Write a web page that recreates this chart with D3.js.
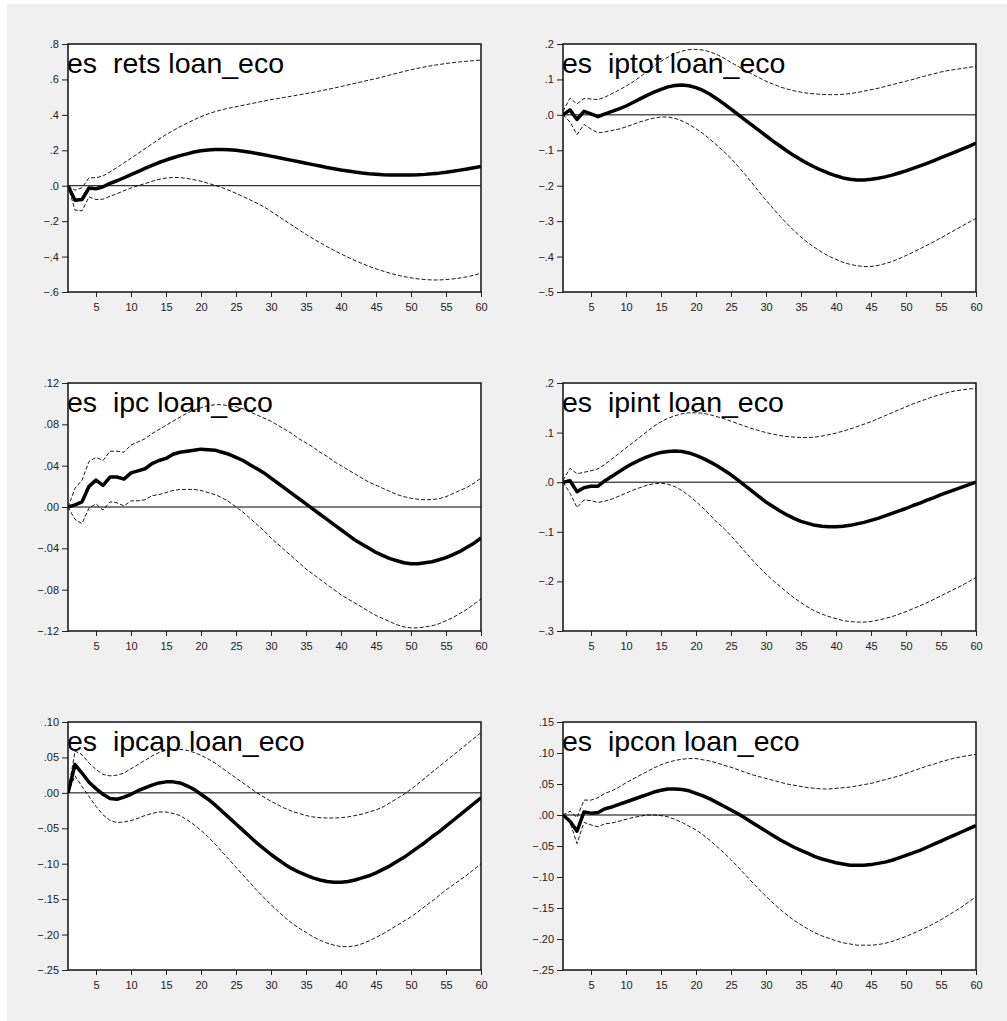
<!DOCTYPE html>
<html>
<head>
<meta charset="utf-8">
<script src="https://cdn.jsdelivr.net/npm/d3@7"></script>
<style>
body { margin: 0; background: #fff; }
svg { display: block; }
.tick text { font-family: "Liberation Sans", Arial, sans-serif; font-size: 11px; fill: #222; }
</style>
</head>
<body>
<script>
// impulse responses, periods 1..60
const periods = d3.range(1, 61);
const xTicks = [5, 10, 15, 20, 25, 30, 35, 40, 45, 50, 55, 60];

const titles = ["es  rets loan_eco", "es  iptot loan_eco", "es  ipc loan_eco",
                "es  ipint loan_eco", "es  ipcap loan_eco", "es  ipcon loan_eco"];

const yDomains = [[-0.6, 0.8], [-0.5, 0.2], [-0.12, 0.12], [-0.3, 0.2], [-0.25, 0.10], [-0.25, 0.15]];
const yTicks = [
  [-0.6, -0.4, -0.2, 0, 0.2, 0.4, 0.6, 0.8],
  [-0.5, -0.4, -0.3, -0.2, -0.1, 0, 0.1, 0.2],
  [-0.12, -0.08, -0.04, 0, 0.04, 0.08, 0.12],
  [-0.3, -0.2, -0.1, 0, 0.1, 0.2],
  [-0.25, -0.20, -0.15, -0.10, -0.05, 0, 0.05, 0.10],
  [-0.25, -0.20, -0.15, -0.10, -0.05, 0, 0.05, 0.10, 0.15]
];
const yDecimals = [1, 1, 2, 1, 2, 2];

// rets
const rets = [0,-0.082,-0.078,-0.013,-0.017,-0.006,0.013,0.028,0.045,0.062,0.080,0.098,0.115,0.131,0.145,0.158,0.170,0.180,0.190,0.197,
  0.202,0.205,0.205,0.203,0.200,0.195,0.189,0.182,0.175,0.167,0.159,0.151,0.143,0.135,0.127,0.119,0.111,0.103,0.096,0.089,
  0.083,0.077,0.072,0.068,0.065,0.062,0.061,0.060,0.060,0.061,0.062,0.064,0.067,0.071,0.076,0.082,0.088,0.094,0.101,0.108];
const retsUp = [0,-0.025,-0.012,0.045,0.045,0.055,0.078,0.103,0.129,0.155,0.182,0.209,0.236,0.263,0.288,0.311,0.333,0.353,0.372,0.390,
  0.405,0.418,0.429,0.438,0.446,0.454,0.462,0.470,0.478,0.486,0.492,0.499,0.506,0.513,0.520,0.527,0.535,0.543,0.551,0.560,
  0.569,0.578,0.587,0.596,0.605,0.615,0.625,0.635,0.645,0.655,0.663,0.671,0.678,0.684,0.690,0.695,0.699,0.703,0.706,0.709];
const retsLo = [0,-0.138,-0.142,-0.063,-0.078,-0.076,-0.060,-0.045,-0.028,-0.013,0.000,0.012,0.025,0.036,0.043,0.047,0.046,0.041,0.034,0.025,
  0.014,0.002,-0.011,-0.026,-0.043,-0.061,-0.080,-0.099,-0.119,-0.145,-0.171,-0.197,-0.223,-0.249,-0.275,-0.299,-0.322,-0.344,-0.365,-0.385,
  -0.404,-0.422,-0.439,-0.455,-0.469,-0.482,-0.494,-0.504,-0.513,-0.520,-0.526,-0.530,-0.532,-0.532,-0.530,-0.526,-0.521,-0.514,-0.505,-0.494];

// iptot
const iptot = [0,0.014,-0.013,0.010,0.003,-0.005,0.003,0.010,0.017,0.025,0.035,0.045,0.055,0.064,0.072,0.079,0.083,0.084,0.082,0.077,
  0.069,0.058,0.045,0.031,0.016,0.001,-0.014,-0.029,-0.044,-0.059,-0.074,-0.088,-0.102,-0.115,-0.127,-0.138,-0.148,-0.157,-0.165,-0.172,
  -0.178,-0.182,-0.184,-0.184,-0.182,-0.179,-0.175,-0.170,-0.164,-0.158,-0.151,-0.144,-0.137,-0.129,-0.121,-0.113,-0.105,-0.097,-0.089,-0.080];
const iptotUp = [0.010,0.047,0.031,0.046,0.045,0.043,0.050,0.060,0.070,0.081,0.093,0.107,0.122,0.137,0.151,0.163,0.173,0.180,0.184,0.185,
  0.183,0.178,0.170,0.160,0.148,0.137,0.126,0.115,0.105,0.095,0.087,0.079,0.073,0.068,0.064,0.061,0.059,0.058,0.057,0.057,
  0.058,0.060,0.063,0.067,0.071,0.075,0.080,0.085,0.090,0.095,0.100,0.106,0.111,0.116,0.121,0.125,0.128,0.131,0.134,0.137];
const iptotLo = [0,-0.020,-0.056,-0.027,-0.040,-0.051,-0.048,-0.044,-0.040,-0.034,-0.027,-0.020,-0.014,-0.009,-0.006,-0.006,-0.010,-0.017,-0.027,-0.039,
  -0.053,-0.069,-0.086,-0.104,-0.123,-0.145,-0.168,-0.192,-0.217,-0.241,-0.264,-0.286,-0.307,-0.327,-0.345,-0.361,-0.375,-0.388,-0.399,-0.408,
  -0.416,-0.422,-0.426,-0.428,-0.428,-0.425,-0.420,-0.414,-0.406,-0.397,-0.388,-0.378,-0.368,-0.358,-0.347,-0.336,-0.325,-0.314,-0.303,-0.292];

// ipc
const ipc = [0,0.002,0.005,0.020,0.026,0.021,0.029,0.029,0.027,0.033,0.035,0.037,0.042,0.045,0.047,0.051,0.053,0.054,0.055,0.056,
  0.0555,0.055,0.053,0.051,0.048,0.045,0.041,0.037,0.033,0.028,0.023,0.018,0.013,0.008,0.003,-0.002,-0.007,-0.012,-0.017,-0.022,
  -0.027,-0.032,-0.036,-0.040,-0.044,-0.047,-0.050,-0.052,-0.054,-0.055,-0.055,-0.054,-0.053,-0.051,-0.049,-0.046,-0.043,-0.039,-0.035,-0.030];
const ipcUp = [0,0.018,0.026,0.044,0.048,0.045,0.054,0.054,0.053,0.060,0.063,0.066,0.071,0.075,0.079,0.083,0.087,0.091,0.094,0.096,
  0.098,0.099,0.099,0.098,0.097,0.095,0.092,0.089,0.086,0.083,0.079,0.075,0.071,0.066,0.062,0.058,0.053,0.049,0.044,0.040,
  0.036,0.032,0.028,0.024,0.021,0.018,0.015,0.012,0.010,0.0085,0.0075,0.007,0.0072,0.008,0.010,0.013,0.016,0.019,0.023,0.028];
const ipcLo = [0,-0.012,-0.016,-0.001,0.003,-0.003,0.005,0.004,0.001,0.006,0.006,0.007,0.011,0.012,0.014,0.016,0.017,0.017,0.017,0.016,
  0.014,0.012,0.009,0.005,0.000,-0.005,-0.011,-0.017,-0.023,-0.030,-0.036,-0.042,-0.048,-0.054,-0.060,-0.065,-0.070,-0.075,-0.080,-0.085,
  -0.089,-0.093,-0.097,-0.101,-0.105,-0.108,-0.111,-0.114,-0.116,-0.117,-0.117,-0.116,-0.115,-0.113,-0.110,-0.107,-0.103,-0.099,-0.094,-0.089];

// ipint
const ipint = [0,0.003,-0.019,-0.011,-0.008,-0.008,0.003,0.012,0.021,0.030,0.038,0.045,0.051,0.056,0.060,0.062,0.063,0.062,0.059,0.054,
  0.048,0.041,0.033,0.024,0.015,0.004,-0.007,-0.018,-0.029,-0.040,-0.049,-0.058,-0.066,-0.073,-0.079,-0.083,-0.087,-0.089,-0.090,-0.090,
  -0.089,-0.087,-0.084,-0.081,-0.077,-0.073,-0.068,-0.063,-0.058,-0.053,-0.047,-0.042,-0.036,-0.031,-0.025,-0.020,-0.015,-0.010,-0.005,0.000];
const ipintUp = [0.004,0.028,0.017,0.020,0.023,0.027,0.036,0.047,0.058,0.069,0.080,0.091,0.102,0.113,0.122,0.129,0.134,0.138,0.140,0.140,
  0.139,0.136,0.132,0.128,0.123,0.118,0.113,0.108,0.104,0.100,0.097,0.094,0.092,0.091,0.090,0.090,0.091,0.093,0.096,0.099,
  0.103,0.107,0.112,0.117,0.122,0.128,0.134,0.140,0.146,0.152,0.158,0.163,0.168,0.173,0.177,0.181,0.184,0.186,0.188,0.189];
const ipintLo = [0,-0.022,-0.051,-0.036,-0.037,-0.041,-0.038,-0.034,-0.028,-0.022,-0.016,-0.011,-0.006,-0.003,-0.002,-0.004,-0.009,-0.017,-0.027,-0.039,
  -0.052,-0.066,-0.081,-0.093,-0.108,-0.124,-0.140,-0.156,-0.171,-0.185,-0.198,-0.210,-0.222,-0.233,-0.243,-0.252,-0.260,-0.266,-0.271,-0.275,
  -0.279,-0.281,-0.282,-0.282,-0.281,-0.278,-0.275,-0.271,-0.266,-0.261,-0.255,-0.249,-0.243,-0.236,-0.229,-0.222,-0.215,-0.208,-0.200,-0.192];

// ipcap
const ipcap = [0,0.040,0.028,0.015,0.006,-0.002,-0.008,-0.009,-0.006,-0.002,0.003,0.007,0.011,0.014,0.0155,0.0155,0.014,0.010,0.005,-0.002,
  -0.009,-0.017,-0.026,-0.035,-0.044,-0.053,-0.062,-0.071,-0.079,-0.087,-0.094,-0.101,-0.107,-0.112,-0.116,-0.120,-0.123,-0.125,-0.126,-0.126,
  -0.125,-0.123,-0.120,-0.117,-0.113,-0.108,-0.103,-0.097,-0.091,-0.084,-0.077,-0.070,-0.062,-0.055,-0.047,-0.039,-0.031,-0.023,-0.015,-0.007];
const ipcapUp = [0,0.059,0.054,0.042,0.033,0.026,0.024,0.025,0.028,0.034,0.040,0.046,0.052,0.057,0.060,0.061,0.0615,0.060,0.057,0.053,
  0.048,0.042,0.035,0.028,0.021,0.014,0.007,0.000,-0.006,-0.012,-0.017,-0.022,-0.026,-0.029,-0.032,-0.034,-0.035,-0.0355,-0.0355,-0.035,
  -0.034,-0.032,-0.030,-0.027,-0.024,-0.020,-0.014,-0.008,-0.002,0.005,0.013,0.021,0.029,0.037,0.045,0.053,0.061,0.069,0.077,0.085];
const ipcapLo = [0,0.024,0.009,-0.005,-0.019,-0.031,-0.039,-0.042,-0.041,-0.039,-0.036,-0.032,-0.029,-0.027,-0.027,-0.029,-0.032,-0.038,-0.045,-0.053,
  -0.062,-0.072,-0.083,-0.094,-0.105,-0.116,-0.127,-0.138,-0.148,-0.158,-0.167,-0.176,-0.184,-0.191,-0.197,-0.203,-0.208,-0.212,-0.215,-0.217,
  -0.217,-0.216,-0.213,-0.209,-0.204,-0.199,-0.193,-0.187,-0.181,-0.175,-0.168,-0.160,-0.153,-0.145,-0.137,-0.130,-0.123,-0.116,-0.108,-0.100];

// ipcon
const ipcon = [0,-0.010,-0.026,0.005,0.003,0.004,0.010,0.013,0.017,0.021,0.025,0.029,0.033,0.037,0.040,0.042,0.042,0.041,0.039,0.035,
  0.031,0.026,0.020,0.014,0.008,0.002,-0.005,-0.012,-0.019,-0.026,-0.033,-0.040,-0.046,-0.052,-0.057,-0.062,-0.067,-0.071,-0.074,-0.077,
  -0.079,-0.081,-0.081,-0.081,-0.080,-0.078,-0.076,-0.073,-0.069,-0.065,-0.061,-0.057,-0.052,-0.047,-0.042,-0.037,-0.032,-0.027,-0.022,-0.017];
const ipconUp = [0,0.006,-0.004,0.024,0.024,0.028,0.035,0.039,0.045,0.052,0.058,0.064,0.070,0.076,0.081,0.085,0.088,0.090,0.091,0.091,
  0.089,0.087,0.084,0.080,0.077,0.073,0.069,0.065,0.062,0.059,0.056,0.053,0.050,0.048,0.046,0.044,0.043,0.042,0.042,0.043,
  0.044,0.045,0.047,0.049,0.051,0.054,0.057,0.060,0.063,0.067,0.071,0.075,0.079,0.082,0.086,0.089,0.092,0.094,0.096,0.098];
const ipconLo = [0,-0.012,-0.046,-0.012,-0.016,-0.019,-0.014,-0.013,-0.010,-0.007,-0.004,-0.002,0.000,0.000,-0.001,-0.003,-0.007,-0.012,-0.018,-0.024,
  -0.032,-0.041,-0.051,-0.061,-0.072,-0.084,-0.096,-0.108,-0.120,-0.131,-0.142,-0.152,-0.161,-0.170,-0.177,-0.184,-0.190,-0.195,-0.199,-0.203,
  -0.206,-0.208,-0.210,-0.210,-0.210,-0.209,-0.207,-0.204,-0.200,-0.196,-0.191,-0.186,-0.181,-0.175,-0.169,-0.162,-0.155,-0.148,-0.140,-0.132];

const mains = [rets, iptot, ipc, ipint, ipcap, ipcon];
const uppers = [retsUp, iptotUp, ipcUp, ipintUp, ipcapUp, ipconUp];
const lowers = [retsLo, iptotLo, ipcLo, ipintLo, ipcapLo, ipconLo];

function main(){
    const width = 1007;
    const height = 1021;

    const svg = d3.select("body").append("svg")
        .attr("width", width)
        .attr("height", height);

    svg.append("rect")
        .attr("x", 7).attr("y", 4)
        .attr("width", width - 7).attr("height", height - 4)
        .attr("fill", "#f0f0f0");

    const colX = [68, 563];
    const rowY = [44, 383, 722];
    const pw = 413, ph = 248;

    titles.forEach(function(title, k){
        const left = colX[k % 2];
        const top = rowY[Math.floor(k / 2)];
        const g = svg.append("g").attr("transform", "translate(" + left + "," + top + ")");

        const x = d3.scaleLinear().domain([1, 60]).range([0, pw]);
        const y = d3.scaleLinear().domain(yDomains[k]).range([ph, 0]);

        g.append("rect")
            .attr("width", pw).attr("height", ph)
            .attr("fill", "#fff");

        const clipId = "clip" + k;
        g.append("clipPath").attr("id", clipId)
          .append("rect").attr("width", pw).attr("height", ph);

        const plot = g.append("g").attr("clip-path", "url(#" + clipId + ")");

        // zero line
        plot.append("line")
            .attr("x1", 0).attr("x2", pw)
            .attr("y1", y(0)).attr("y2", y(0))
            .attr("stroke", "#000").attr("stroke-width", 1);

        const line = d3.line()
            .x(function(d, i){ return x(periods[i]); })
            .y(function(d){ return y(d); });

        [uppers[k], lowers[k]].forEach(function(band){
            plot.append("path")
                .datum(band)
                .attr("d", line)
                .attr("fill", "none")
                .attr("stroke", "#000")
                .attr("stroke-width", 0.9)
                .attr("stroke-dasharray", "4,2");
        });

        plot.append("path")
            .datum(mains[k])
            .attr("d", line)
            .attr("fill", "none")
            .attr("stroke", "#000")
            .attr("stroke-width", 3.5)
            .attr("stroke-linejoin", "round");

        plot.append("text")
            .attr("x", -1)
            .attr("y", 29)
            .attr("font-family", "'Liberation Sans', Arial, sans-serif")
            .attr("font-size", 28.5)
            .attr("fill", "#000")
            .attr("xml:space", "preserve")
            .style("white-space", "pre")
            .text(title);

        const fmt = d3.format("." + yDecimals[k] + "f");
        const yAxis = d3.axisLeft(y)
            .tickValues(yTicks[k])
            .tickSize(6)
            .tickSizeOuter(0)
            .tickPadding(3)
            .tickFormat(function(d){ return fmt(d).replace("0.", "."); });

        const xAxis = d3.axisBottom(x)
            .tickValues(xTicks)
            .tickSize(5)
            .tickSizeOuter(0)
            .tickPadding(6)
            .tickFormat(d3.format("d"));

        const ya = g.append("g").call(yAxis);
        const xa = g.append("g").attr("transform", "translate(0," + ph + ")").call(xAxis);
        ya.select(".domain").remove();
        xa.select(".domain").remove();
        ya.selectAll("line").attr("stroke", "#222");
        xa.selectAll("line").attr("stroke", "#222");

        g.append("rect")
            .attr("width", pw).attr("height", ph)
            .attr("fill", "none")
            .attr("stroke", "#111")
            .attr("stroke-width", 1.5);
    });
}
main();
</script>
</body>
</html>
